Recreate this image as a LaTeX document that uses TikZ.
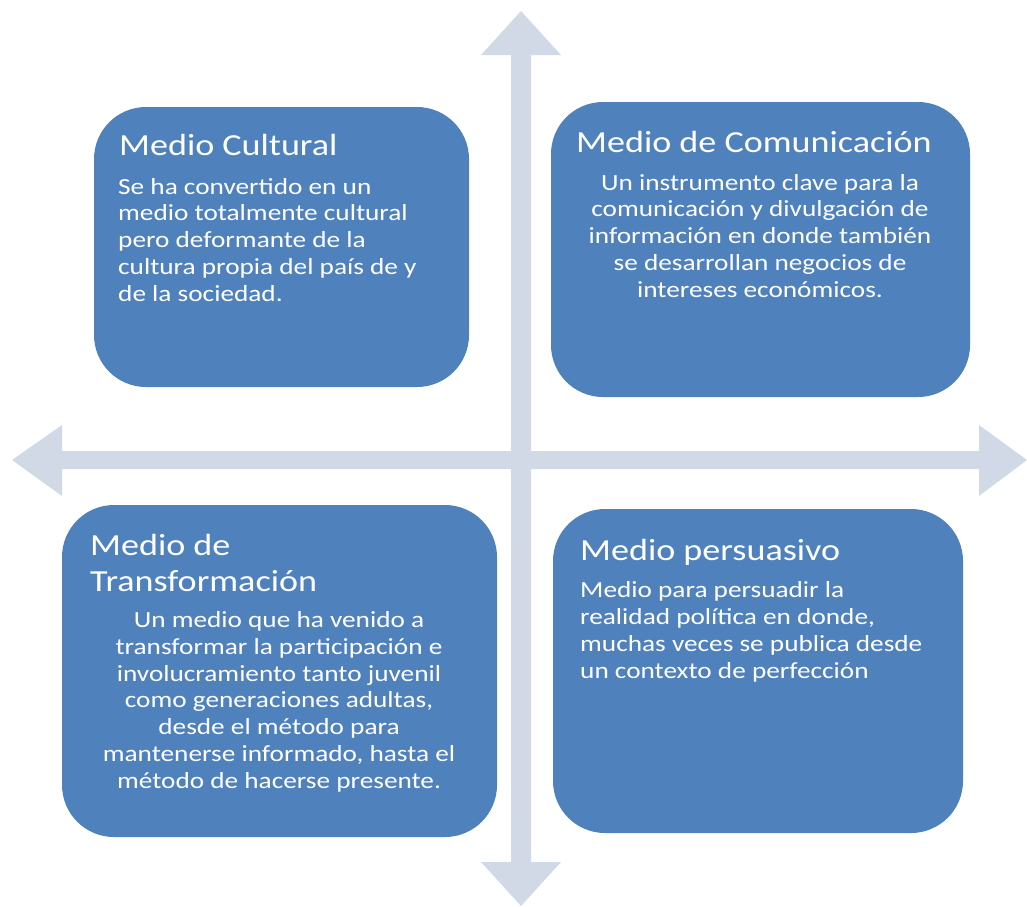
\documentclass[tikz,border=0pt]{standalone}
\usepackage{fontspec}
\setmainfont[FakeStretch=1.18]{Carlito}
\begin{document}
\begin{tikzpicture}[x=1pt,y=-1pt,
  box/.style={fill=boxblue, draw=none, rounded corners=52pt, inner sep=0pt},
  ttl/.style={text=white, font=\fontsize{30.6}{35.5}\selectfont, inner sep=0pt},
  txt/.style={text=white, font=\fontsize{23.1}{26.7}\selectfont, inner sep=0pt}]
\definecolor{boxblue}{HTML}{4F81BD}
\definecolor{axis}{HTML}{D1D9E7}
\useasboundingbox (0,0) rectangle (1027,906);

% cross of double-headed arrows
\fill[axis] (62,451) -- (62,425) -- (12,460) -- (62,496) -- (62,469)
  -- (511,469) -- (511,862) -- (481,862) -- (521,906) -- (561,862) -- (531,862)
  -- (531,469) -- (979,469) -- (979,496) -- (1027,460) -- (979,425) -- (979,451)
  -- (531,451) -- (531,55) -- (561,55) -- (521,11) -- (481,55) -- (511,55)
  -- (511,451) -- cycle;

% quadrant boxes
\node[box, minimum width=375pt, minimum height=280pt] (b1) at (281.5,247) {};
\node[box, minimum width=419pt, minimum height=295pt] (b2) at (760.5,249.5) {};
\node[box, minimum width=435pt, minimum height=332pt] (b3) at (279.5,671) {};
\node[box, minimum width=410pt, minimum height=324pt] (b4) at (758,671) {};

% multi-line texts are placed by the baseline of their last line
% top left
\node[ttl, anchor=base west] (t1) at (119,155) {Medio Cultural};
\node[txt, anchor=base west, align=left] (p1) at (118,301)
  {Se ha convertido en un\\medio totalmente cultural\\pero deformante de la\\cultura propia del país de y\\de la sociedad.};

% top right
\node[ttl, anchor=base west] (t2) at (576,152) {Medio de Comunicación};
\node[txt, anchor=base, align=center] (p2) at (760,297)
  {Un instrumento clave para la\\comunicación y divulgación de\\información en donde también\\se desarrollan negocios de\\intereses económicos.};

% bottom left
\node[ttl, anchor=base west, align=left] (t3) at (90,591) {Medio de\\Transformación};
\node[txt, anchor=base, align=center] (p3) at (279,788)
  {Un medio que ha venido a\\transformar la participación e\\involucramiento tanto juvenil\\como generaciones adultas,\\desde el método para\\mantenerse informado, hasta el\\método de hacerse presente.};

% bottom right
\node[ttl, anchor=base west] (t4) at (580,560) {Medio persuasivo};
\node[txt, anchor=base west, align=left] (p4) at (580,678)
  {Medio para persuadir la\\realidad política en donde,\\muchas veces se publica desde\\un contexto de perfección};
\end{tikzpicture}
\end{document}
